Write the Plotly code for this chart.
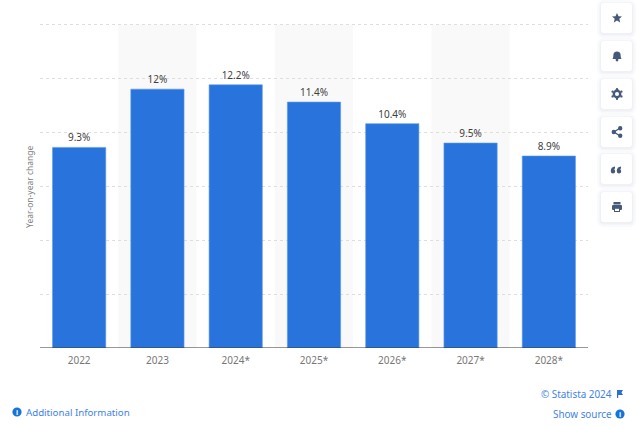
import plotly.graph_objects as go

W, H = 640, 427
categories = ["2022", "2023", "2024*", "2025*", "2026*", "2027*", "2028*"]
values = [9.3, 12.0, 12.2, 11.4, 10.4, 9.5, 8.9]
value_labels = ["9.3%", "12%", "12.2%", "11.4%", "10.4%", "9.5%", "8.9%"]
grid_values = [0, 2.5, 5, 7.5, 10, 12.5, 15]
band_indices = [1, 3, 5]
y_title = "Year-on-year change"
FONT = "Noto Sans, Open Sans, sans-serif"
BLUE = "#2874DC"
LINK = "#3F82E3"
ICON = "#46597A"
Y_TOP = 15.2


def px(x):
    return x / W


def py(y):
    return 1 - y / H


def path(points):
    """Build an SVG path in paper coordinates from pixel commands."""
    out = []
    for cmd in points:
        if cmd[0] == "Z":
            out.append("Z")
        else:
            coords = cmd[1:]
            pairs = [f"{px(coords[i]):.5f},{py(coords[i + 1]):.5f}" for i in range(0, len(coords), 2)]
            out.append(cmd[0] + " " + " ".join(pairs))
    return " ".join(out)


def rounded(x0, y0, x1, y1, r):
    return path([
        ("M", x0 + r, y0), ("L", x1 - r, y0), ("Q", x1, y0, x1, y0 + r),
        ("L", x1, y1 - r), ("Q", x1, y1, x1 - r, y1), ("L", x0 + r, y1),
        ("Q", x0, y1, x0, y1 - r), ("L", x0, y0 + r), ("Q", x0, y0, x0 + r, y0), ("Z",),
    ])


def circle(cx, cy, r, color, **kw):
    return dict(type="circle", xref="paper", yref="paper", x0=px(cx - r), x1=px(cx + r),
                y0=py(cy + r), y1=py(cy - r), fillcolor=color, line_width=0, **kw)


def icon(d, color=ICON):
    return dict(type="path", xref="paper", yref="paper", path=d, fillcolor=color, line_width=0)


fig = go.Figure(go.Bar(
    x=categories, y=values, text=value_labels, textposition="outside", cliponaxis=False,
    marker=dict(color=BLUE, line=dict(color="#5C98EA", width=0.6)),
    textfont=dict(family=FONT, size=10, color="#3F3F3F"), textangle=0, hoverinfo="skip",
))

shapes = []
for i in band_indices:
    shapes.append(dict(type="rect", xref="x", yref="y", x0=i - 0.5, x1=i + 0.5, y0=0, y1=15,
                       fillcolor="#F9F9F9", line_width=0, layer="below"))
shapes.append(dict(type="line", xref="x domain", yref="y", x0=0, x1=1, y0=0, y1=0,
                   line=dict(color="#333333", width=1.2)))

# Toolbar buttons on the right
button_tops = [3, 41, 79, 117, 154, 192]
for top in button_tops:
    for grow, col in [(4, "#F9FAFC"), (2, "#F4F5F8"), (1, "#EFF1F5")]:
        shapes.append(dict(type="path", xref="paper", yref="paper",
                           path=rounded(601 - grow, top - grow + 1, 632 + grow, top + 30 + grow + 1, 3 + grow),
                           fillcolor=col, line_width=0))
    shapes.append(dict(type="path", xref="paper", yref="paper",
                       path=rounded(601, top, 632, top + 30, 3), fillcolor="#FFFFFF", line_width=0))

# star
cx, cy = 617, 18
star = [(0, -5), (1.5, -1.7), (5, -1.6), (2.3, 0.7), (3.2, 4.5), (0, 2.4), (-3.2, 4.5), (-2.3, 0.7), (-5, -1.6), (-1.5, -1.7)]
shapes.append(icon(path([("M" if i == 0 else "L", cx + a, cy + b) for i, (a, b) in enumerate(star)] + [("Z",)])))
# bell
cx, cy = 617, 56
shapes.append(icon(path([("M", cx - 4.4, cy + 3), ("Q", cx - 3.6, cy + 1, cx - 3.6, cy - 1), ("Q", cx - 3.6, cy - 4.6, cx, cy - 4.6),
                         ("Q", cx + 3.6, cy - 4.6, cx + 3.6, cy - 1), ("Q", cx + 3.6, cy + 1, cx + 4.4, cy + 3), ("Z",)])))
shapes.append(circle(cx, cy + 4, 1.4, ICON))
# gear
cx, cy = 617, 94
shapes.append(circle(cx, cy, 4.4, ICON))
for a, b in [(0, -4.8), (0, 4.8), (-4.4, -2.4), (4.4, -2.4), (-4.4, 2.4), (4.4, 2.4)]:
    shapes.append(circle(cx + a, cy + b, 1.2, ICON))
shapes.append(circle(cx, cy, 2, "#FFFFFF"))
# share
cx, cy = 617, 132
shapes.append(dict(type="path", xref="paper", yref="paper", line=dict(color=ICON, width=1.3),
                   path=path([("M", cx + 3, cy - 4), ("L", cx - 3, cy), ("L", cx + 3, cy + 4)])))
for a, b in [(3.2, -3.8), (-3.2, 0), (3.2, 3.8)]:
    shapes.append(circle(cx + a, cy + b, 2.2, ICON))
# quote
cx, cy = 617, 170
for dx in (-4, 2):
    shapes.append(circle(cx + dx, cy + 1.2, 2.2, ICON))
    shapes.append(icon(path([("M", cx + dx - 2.2, cy + 1), ("Q", cx + dx - 2.2, cy - 3, cx + dx + 2, cy - 3.4),
                             ("L", cx + dx + 2, cy - 1.5), ("Q", cx + dx, cy - 1, cx + dx, cy + 1), ("Z",)])))
# printer
cx, cy = 617, 207
shapes.append(icon(rounded(cx - 5, cy - 2, cx + 5, cy + 3, 1)))
shapes.append(icon(path([("M", cx - 3.5, cy - 5), ("L", cx + 3.5, cy - 5), ("L", cx + 3.5, cy - 2.5), ("L", cx - 3.5, cy - 2.5), ("Z",)])))
shapes.append(icon(path([("M", cx - 3, cy + 0.8), ("L", cx + 3, cy + 0.8), ("L", cx + 3, cy + 5), ("L", cx - 3, cy + 5), ("Z",)])))
shapes.append(icon(path([("M", cx - 2, cy + 1.8), ("L", cx + 2, cy + 1.8), ("L", cx + 2, cy + 4), ("L", cx - 2, cy + 4), ("Z",)]), "#FFFFFF"))

# Footer icons
shapes.append(circle(17, 412, 4.6, "#1673DC"))
shapes.append(circle(620, 414, 4.6, "#1673DC"))
fx, fy = 617, 394
shapes.append(icon(path([("M", fx, fy - 4), ("L", fx + 6, fy - 4), ("L", fx + 4.5, fy - 1.5), ("L", fx + 6, fy + 1),
                         ("L", fx + 1.2, fy + 1), ("L", fx + 1.2, fy + 4), ("L", fx, fy + 4), ("Z",)]), "#2C6FD4"))


def note(text, x, y, anchor="left", color=LINK, size=9.7):
    return dict(text=text, xref="paper", yref="paper", x=px(x), y=py(y), xanchor=anchor, yanchor="middle",
                showarrow=False, font=dict(family=FONT, size=size, color=color))


title_note = note(y_title, 29, 187, "center", "#808080", 8.5)
title_note["textangle"] = -90

annotations = [
    title_note,
    note("Additional Information", 23.5, 412),
    note("© Statista 2024", 613.5, 394, "right", size=9.9),
    note("Show source", 613.5, 414, "right", size=9.9),
    note("<b>i</b>", 17, 412, "center", "#FFFFFF", 7),
    note("<b>i</b>", 620, 414, "center", "#FFFFFF", 7),
]

fig.update_layout(
    width=W, height=H, margin=dict(l=0, r=0, t=0, b=0), autosize=False,
    paper_bgcolor="#FFFFFF", plot_bgcolor="rgba(0,0,0,0)", showlegend=False, bargap=0.32,
    shapes=shapes, annotations=annotations,
    font=dict(family=FONT, size=10, color="#777777"),
    xaxis=dict(domain=[px(40), px(588)], type="category", showgrid=False, showline=False, ticks="",
               tickfont=dict(family=FONT, size=10, color="#777777"), ticklabelstandoff=5, fixedrange=True),
    yaxis=dict(domain=[py(348), py(20.1)], range=[0, Y_TOP], tickvals=grid_values, showticklabels=False,
               showgrid=True, gridcolor="#DEDEDE", griddash="dot", gridwidth=1, zeroline=False, ticks="",
               automargin=False, fixedrange=True),
)

fig.write_html("out.html", config={"displayModeBar": False},
               post_script="document.body.style.margin='0';document.documentElement.style.overflow='hidden';")
